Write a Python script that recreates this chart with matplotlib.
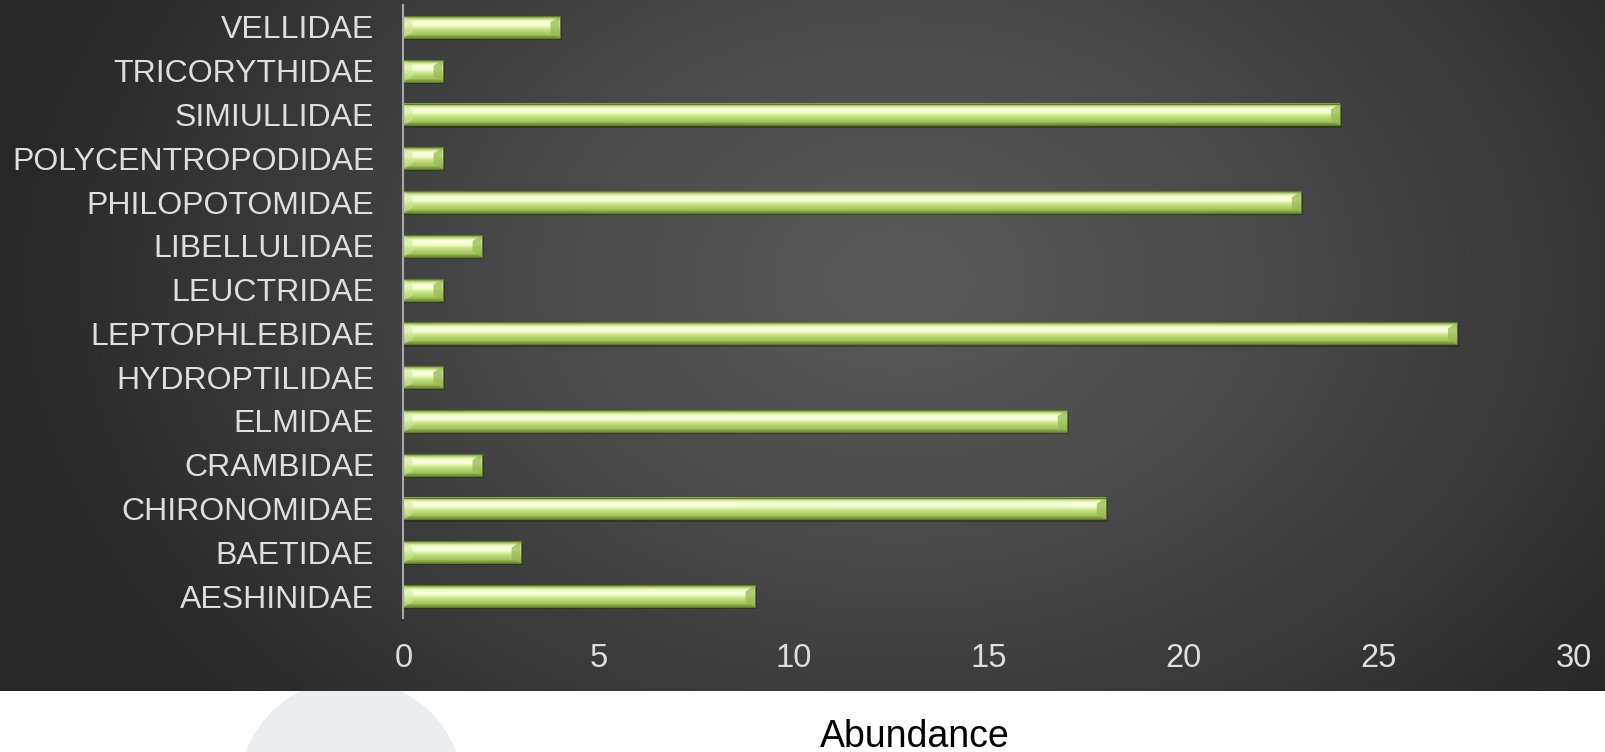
import numpy as np
import matplotlib
matplotlib.use("Agg")
import matplotlib.pyplot as plt
from matplotlib.patches import Circle, Polygon, Rectangle

plt.rcParams['font.family'] = ['Liberation Sans', 'DejaVu Sans']

# data, bottom to top as drawn
families = ['AESHINIDAE', 'BAETIDAE', 'CHIRONOMIDAE', 'CRAMBIDAE', 'ELMIDAE',
            'HYDROPTILIDAE', 'LEPTOPHLEBIDAE', 'LEUCTRIDAE', 'LIBELLULIDAE',
            'PHILOPOTOMIDAE', 'POLYCENTROPODIDAE', 'SIMIULLIDAE',
            'TRICORYTHIDAE', 'VELLIDAE']
abundance = [9, 3, 18, 2, 17, 1, 27, 1, 2, 23, 1, 24, 1, 4]
x_ticks = [0, 5, 10, 15, 20, 25, 30]

W, H = 1606, 752
fig = plt.figure(figsize=(W / 100, H / 100), dpi=100)
fig.patch.set_facecolor('white')

# background layer in pixel coordinates
bg = fig.add_axes([0, 0, 1, 1], zorder=0)
bg.set_xlim(0, W)
bg.set_ylim(H, 0)
bg.axis('off')
bg.add_patch(Circle((351, 792), 112, color='#ebeef1', zorder=1))

# dark radial gradient panel
gx, gy = np.meshgrid(np.linspace(0, W, 400), np.linspace(0, 691, 200))
r = np.sqrt(((gx - 900) / 900) ** 2 + ((gy - 280) / 650) ** 2)
lum = 0.345 - 0.19 * np.clip(r, 0, 1) ** 1.3
img = np.dstack([lum, lum, lum])
bg.imshow(img, extent=(0, W, 691, 0), aspect='auto', zorder=2, interpolation='bilinear')

# main chart
ax = fig.add_axes([403.5 / W, (H - 618) / H, (1574 - 403.5) / W, (618 - 5) / H], zorder=1)
ax.patch.set_alpha(0)
ypos = np.arange(len(families))
bars = ax.barh(ypos, abundance, height=0.5, color='#9bbb59', zorder=2)

# bar shading: vertical gradient + bevelled ends + shadow
prof = np.array([
    [0.54, 0.65, 0.29], [0.82, 0.92, 0.58], [0.96, 1.00, 0.84], [0.99, 1.00, 0.88],
    [0.94, 0.99, 0.78], [0.83, 0.92, 0.60], [0.75, 0.86, 0.48], [0.69, 0.81, 0.41],
    [0.64, 0.77, 0.36], [0.47, 0.59, 0.23]])
grad = prof[:, None, :]
dx = 9 * 30 / (1574 - 403.5)
for b in bars:
    x0, y0 = b.get_x(), b.get_y()
    w, h = b.get_width(), b.get_height()
    b.set_visible(False)
    ax.add_patch(Rectangle((x0, y0 - 0.05), w + 0.06, h, color='black', alpha=0.25,
                           lw=0, zorder=1))
    ax.imshow(grad, extent=(x0, x0 + w, y0, y0 + h), aspect='auto',
              interpolation='bilinear', zorder=2)
    bw = min(dx, w / 3)
    ax.add_patch(Polygon([(x0 + w, y0 + h), (x0 + w - bw, y0 + h * 0.72),
                          (x0 + w - bw, y0 + h * 0.22), (x0 + w, y0)],
                         closed=True, color='#96b853', alpha=0.75, lw=0, zorder=3))
    ax.add_patch(Polygon([(x0, y0 + h), (x0 + bw, y0 + h * 0.72),
                          (x0 + bw, y0 + h * 0.22), (x0, y0)],
                         closed=True, color='#cfe69c', alpha=0.55, lw=0, zorder=3))
    ax.add_patch(Rectangle((x0, y0), w, h, fill=False, ec='#5f7a2a', lw=0.8, zorder=4))

ax.set_aspect('auto')
ax.set_xlim(0, 30)
ax.set_ylim(-0.5, len(families) - 0.5)
ax.set_yticks(ypos)
ax.set_yticklabels(families)
ax.set_xticks(x_ticks)
ax.tick_params(axis='y', length=0, pad=21, labelsize=23, labelcolor='#dedede')
ax.tick_params(axis='x', length=0, pad=18, labelsize=23.5, labelcolor='#dedede')
for s in ['top', 'right', 'bottom']:
    ax.spines[s].set_visible(False)
ax.spines['left'].set_color('#a8a8a8')
ax.spines['left'].set_linewidth(1.5)
ax.spines['left'].set_zorder(5)

fig.text(915 / W, (H - 747) / H, 'Abundance', ha='center', va='baseline',
         fontsize=27, color='black')

fig.savefig('out.png', dpi=100)
